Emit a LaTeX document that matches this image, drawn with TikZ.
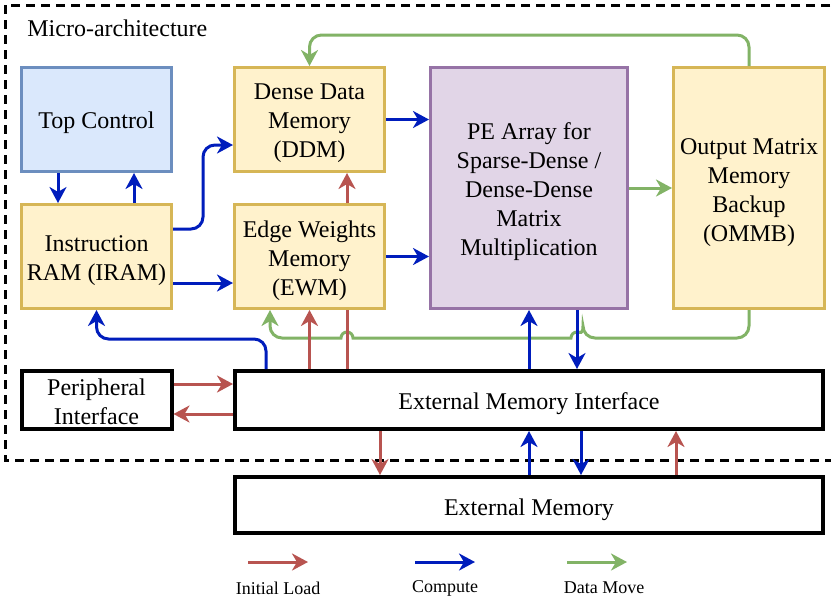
\documentclass[tikz,border=0pt]{standalone}
\usepackage{fontspec}
\setmainfont{Liberation Serif}
\usetikzlibrary{arrows.meta}
\definecolor{cred}{HTML}{B85450}
\definecolor{cblue}{HTML}{001DBC}
\definecolor{cgreen}{HTML}{82B366}
\definecolor{yfill}{HTML}{FFF2CC}
\definecolor{ystroke}{HTML}{D6B656}
\definecolor{bfill}{HTML}{DAE8FC}
\definecolor{bstroke}{HTML}{6C8EBF}
\definecolor{pfill}{HTML}{E1D5E7}
\definecolor{pstroke}{HTML}{9673A6}
\begin{document}
\begin{tikzpicture}[x=0.5pt,y=-0.5pt,
  box/.style={draw, line width=1.5pt, inner sep=0pt},
  ybox/.style={box, fill=yfill, draw=ystroke},
  bbox/.style={box, fill=bfill, draw=bstroke},
  pbox/.style={box, fill=pfill, draw=pstroke},
  kbox/.style={box, fill=white, draw=black, line width=2pt},
  boxtext/.style={align=center, inner sep=0pt, font=\fontsize{12}{14.5}\selectfont},
  arrowhd/.style={-{Stealth[length=8pt,width=8.5pt,inset=2.5pt]}},
  initload/.style={draw=cred, line width=1.5pt, arrowhd},
  compute/.style={draw=cblue, line width=1.5pt, arrowhd},
  datamove/.style={draw=cgreen, line width=1.5pt, arrowhd},
  plainred/.style={draw=cred, line width=1.5pt},
  legtext/.style={font=\fontsize{9}{10.5}\selectfont, inner sep=0pt},
]
\useasboundingbox (0,0) rectangle (831,601);
\fill[white] (0,0) rectangle (831,601);

% micro-architecture frame
\draw[line width=1.5pt, dash pattern=on 4.5pt off 3pt] (845,5) -- (5,5) -- (5,460) -- (845,460);
\node[anchor=base west, inner sep=0pt, font=\fontsize{12}{14.5}\selectfont] (title) at (27,36.5) {Micro-architecture};

% blocks
\node[bbox, minimum width=75pt, minimum height=52pt] (top) at (96.5,119.5) {};
\node[ybox, minimum width=75pt, minimum height=52pt] (iram) at (96.5,256.5) {};
\node[ybox, minimum width=75pt, minimum height=52pt] (ddm) at (309.5,119.5) {};
\node[ybox, minimum width=75pt, minimum height=52pt] (ewm) at (309.5,256.5) {};
\node[pbox, minimum width=98.5pt, minimum height=120.5pt] (pe) at (529,188) {};
\node[ybox, minimum width=75.5pt, minimum height=120.5pt] (ommb) at (749,188) {};
\node[kbox, minimum width=75pt, minimum height=29pt] (per) at (96.5,400) {};
\node[kbox, minimum width=294pt, minimum height=29pt] (emi) at (529,400) {};
\node[kbox, minimum width=294pt, minimum height=28pt] (em) at (529,505) {};

% block texts
\node[boxtext] (topt) at ([yshift=-1.5pt]top.center) {Top Control};
\node[boxtext] (iramt) at ([yshift=-2pt]iram.center) {Instruction\\RAM (IRAM)};
\node[boxtext] (ddmt) at ([yshift=-2pt]ddm.center) {Dense Data\\Memory\\(DDM)};
\node[boxtext] (ewmt) at ([yshift=-2pt]ewm.center) {Edge Weights\\Memory\\(EWM)};
\node[boxtext] (pet) at ([yshift=-2pt]pe.center) {PE Array for\\Sparse-Dense /\\Dense-Dense\\Matrix\\Multiplication};
\node[boxtext] (ommbt) at ([yshift=-2.5pt]ommb.center) {Output Matrix\\Memory\\Backup\\(OMMB)};
\node[boxtext] (pert) at ([yshift=-1pt]per.center) {Peripheral\\Interface};
\node[boxtext] (emit) at ([yshift=-2pt]emi.center) {External Memory Interface};
\node[boxtext] (emt) at ([yshift=-2.5pt]em.center) {External Memory};

% compute (blue)
\draw[compute] ([xshift=-19.25pt]top.south) -- ([xshift=-19.25pt]iram.north);
\draw[compute] ([xshift=18.75pt]iram.north) -- ([xshift=18.75pt]top.south);
\draw[compute, rounded corners=6pt] ([yshift=13.75pt]iram.east) -- ++(30,0) |- ([yshift=-12.75pt]ddm.west);
\draw[compute] ([yshift=-13.25pt]iram.east) -- ([yshift=-13.25pt]ewm.west);
\draw[compute] (ddm.east) -- (ddm.east -| pe.west);
\draw[compute] (ewm.east) -- (ewm.east -| pe.west);

% green lower loop (with hops)
\draw[datamove] (ommb.south) [rounded corners=6pt] |- (583,338)
  [sharp corners] arc[start angle=0, end angle=-180, radius=6] -- (353,338)
  arc[start angle=0, end angle=-180, radius=6] -- (290,338)
  [rounded corners=6pt] -| ([xshift=-19.75pt]ewm.south);

% red connections EWM / DDM
\draw[plainred] ([xshift=18.75pt]ewm.south |- emi.north) -- ([xshift=18.75pt]ewm.south);
\draw[initload] ([xshift=18.75pt]ewm.north) -- ([xshift=18.75pt]ddm.south);
\draw[initload] (ewm.south |- emi.north) -- (ewm.south);

% green top loop
\draw[datamove, rounded corners=6pt] (ommb.north) -- ++(0,-31) -| (ddm.north);
\draw[datamove] (pe.east) -- (ommb.west);

% EMI links
\draw[compute, rounded corners=6pt] ([xshift=-131.5pt]emi.north) -- ++(0,-30) -| (iram.south);
\draw[compute] (emi.north) -- (pe.south);
\draw[compute] ([xshift=24pt]pe.south) -- ([xshift=24pt]emi.north);
\draw[initload] ([yshift=8pt]per.east) -- ([yshift=8pt]emi.west);
\draw[initload] ([yshift=-7pt]emi.west) -- ([yshift=-7pt]per.east);
\draw[initload] ([xshift=-74.5pt]emi.south) -- ([xshift=-74.5pt]em.north);
\draw[compute] (em.north) -- (emi.south);
\draw[compute] ([xshift=26pt]emi.south) -- ([xshift=26pt]em.north);
\draw[initload] ([xshift=73.5pt]em.north) -- ([xshift=73.5pt]emi.south);

% legend
\coordinate (l1a) at (248,562); \coordinate (l1b) at (308,562);
\coordinate (l2a) at (415,562); \coordinate (l2b) at (475,562);
\coordinate (l3a) at (567,562); \coordinate (l3b) at (627,562);
\draw[initload] (l1a) -- (l1b);
\draw[compute] (l2a) -- (l2b);
\draw[datamove] (l3a) -- (l3b);
\node[legtext] (t1) at (278,588) {Initial Load};
\node[legtext] (t2) at (445,588) {Compute};
\node[legtext] (t3) at (604,588) {Data Move};
\end{tikzpicture}
\end{document}
